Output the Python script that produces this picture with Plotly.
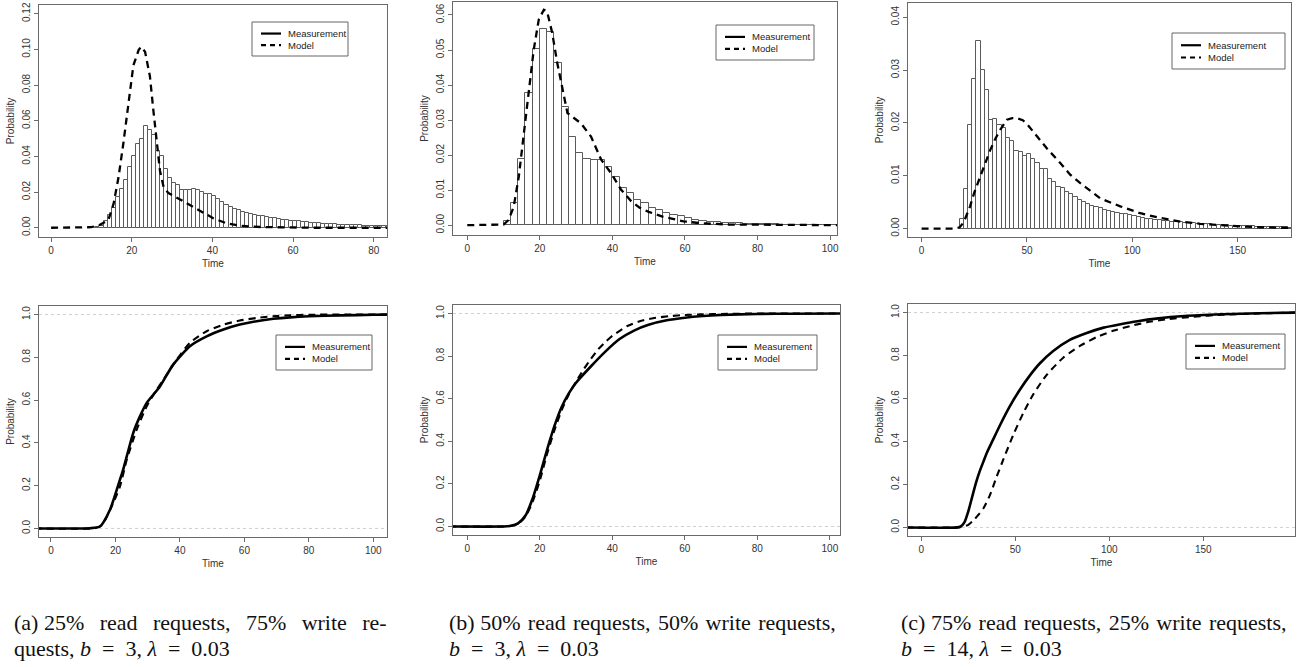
import plotly.graph_objects as go

W, H = 1299, 667

# ---------------- data ----------------
# (a) histogram, bin width 1, left edges
hist_a_width = 1
hist_a_left = list(range(11, 84))
hist_a_height = [0.0005, 0.001, 0.004, 0.007, 0.011, 0.017, 0.022, 0.027, 0.034, 0.040,
                 0.047, 0.050, 0.057, 0.055, 0.052, 0.043, 0.040, 0.033, 0.028, 0.025,
                 0.024, 0.021, 0.021, 0.021, 0.0215, 0.021, 0.020, 0.019, 0.019, 0.018,
                 0.016, 0.0144, 0.0128, 0.0117, 0.0107, 0.0098, 0.0089, 0.0083, 0.0076, 0.0070,
                 0.0067, 0.0063, 0.0060, 0.0057, 0.0053, 0.0050, 0.0046, 0.0043, 0.0040, 0.0037,
                 0.0035, 0.0033, 0.0030, 0.0028, 0.0026, 0.0024, 0.0022, 0.0021, 0.0020, 0.0019,
                 0.0018, 0.0017, 0.0016, 0.0015, 0.0014, 0.0013, 0.0012, 0.0011, 0.0010, 0.0010,
                 0.0009, 0.0009, 0.0008]
model_a_t = [0, 5, 9, 10, 12, 14.2, 15.5, 16.7, 17.9, 19.2, 20.4, 21.7, 22.3, 23.3, 24.5,
             25.4, 26.2, 27.0, 27.9, 29.1, 30.3, 32.4, 34.5, 37.0, 40.3, 43.6, 47.0, 51.9,
             57.7, 65, 75, 84]
model_a_p = [0, 0, 0, 0.0003, 0.0015, 0.0043, 0.0135, 0.028, 0.047, 0.071, 0.091, 0.0996,
             0.1015, 0.0987, 0.085, 0.065, 0.049, 0.032, 0.0228, 0.0194, 0.018, 0.0154,
             0.0126, 0.0093, 0.0052, 0.0024, 0.0011, 0.0004, 0.0001, 0, 0, 0]

# (b) histogram, bin width 2
hist_b_width = 2
hist_b_left = list(range(10, 104, 2))
hist_b_height = [0.0013, 0.0062, 0.0189, 0.0377, 0.0503, 0.0561, 0.0551, 0.0462, 0.0336, 0.0252,
                 0.0206, 0.0190, 0.0187, 0.0187, 0.0166, 0.0137, 0.0107, 0.0091, 0.0072, 0.0062,
                 0.0048, 0.0042, 0.0035, 0.0029, 0.0025, 0.0020, 0.0016, 0.0013, 0.0010, 0.0008,
                 0.0007, 0.0006, 0.0005, 0.0004, 0.0003, 0.00025, 0.0002, 0.0002, 0.00015, 0.00015,
                 0.0001, 0.0001, 0.0001, 0.0001, 0.0001, 0.00005, 0.00005]
model_b_t = [0, 8, 10, 11.4, 12.8, 14.2, 15.6, 16.9, 18.3, 19.7, 21.1, 22.0, 23.4, 24.8, 26.2,
             27.6, 29.4, 31.3, 34.1, 36.9, 39.6, 42.4, 45.2, 47.5, 50, 54, 59.6, 65, 72, 80, 90, 104]
model_b_p = [0, 0, 0.0002, 0.0015, 0.0053, 0.0139, 0.0263, 0.0377, 0.050, 0.0587, 0.0615, 0.061,
             0.0549, 0.0463, 0.0387, 0.032, 0.0306, 0.0291, 0.0253, 0.0187, 0.0149, 0.0101,
             0.0068, 0.0050, 0.0038, 0.0024, 0.0011, 0.0005, 0.0002, 0.0001, 0, 0]

# (c) histogram, bin width 2
hist_c_width = 2
hist_c_left = list(range(18, 176, 2))
hist_c_height = [0.0018, 0.0074, 0.0196, 0.0283, 0.0355, 0.0300, 0.0262, 0.0206, 0.0208, 0.0196,
                 0.0190, 0.0171, 0.0165, 0.0146, 0.0145, 0.0138, 0.0141, 0.0131, 0.0124, 0.0112,
                 0.0113, 0.0094, 0.0089, 0.0078, 0.0076, 0.0069, 0.0066, 0.0059, 0.0054, 0.0050,
                 0.0047, 0.0043, 0.0040, 0.0038, 0.0035, 0.0033, 0.0031, 0.0030, 0.0028, 0.0027,
                 0.0025, 0.0024, 0.0021, 0.0020, 0.0019, 0.0018, 0.0017, 0.0016, 0.0015, 0.0014,
                 0.0013, 0.0012, 0.0012, 0.0011, 0.0010, 0.0010, 0.0009, 0.0009, 0.0008, 0.0008,
                 0.0007, 0.0007, 0.0006, 0.0006, 0.0005, 0.0005, 0.0005, 0.0004, 0.0004, 0.0004,
                 0.0003, 0.0003, 0.0003, 0.0003, 0.0002, 0.0002, 0.0002, 0.0002, 0.0001]
model_c_t = [0, 15, 18, 20, 23, 25, 27.8, 30, 32.6, 35, 37.3, 40.5, 43, 45.2, 48, 50, 54.7,
             59.4, 65.8, 70.5, 75.3, 84.8, 94.3, 103.8, 113.3, 122.8, 132.2, 141.7, 151.2,
             160.7, 176]
model_c_p = [0, 0, 0.0002, 0.0012, 0.0042, 0.0068, 0.0098, 0.0122, 0.0149, 0.0170, 0.0187,
             0.0206, 0.0209, 0.0209, 0.0205, 0.0198, 0.0174, 0.0152, 0.0124, 0.0102, 0.0086,
             0.0057, 0.0042, 0.0029, 0.0020, 0.0013, 0.0009, 0.0006, 0.0004, 0.00025, 0.0001]

# CDFs
cdf_a_meas_t = [-5, 10, 12.1, 15.2, 18.3, 21.4, 22.4, 25.5, 27.6, 29.7, 33.8, 37.9, 43.1,
                48.3, 53.5, 58.6, 63.8, 69, 74.2, 80, 90, 100, 106]
cdf_a_meas_p = [0, 0, 0.001, 0.009, 0.0875, 0.228, 0.275, 0.446, 0.524, 0.587, 0.664, 0.766,
                0.852, 0.898, 0.93, 0.953, 0.969, 0.98, 0.987, 0.992, 0.996, 0.999, 1.0]
cdf_a_model_t = [-5, 13, 15, 17, 19.3, 21.4, 23.5, 26.6, 29.7, 32.8, 35.9, 39, 43.1, 48.3,
                 53.5, 58.6, 63.8, 69, 74.2, 80, 90, 106]
cdf_a_model_p = [0, 0, 0.008, 0.045, 0.119, 0.196, 0.321, 0.462, 0.571, 0.649, 0.719, 0.789,
                 0.868, 0.922, 0.953, 0.972, 0.984, 0.992, 0.997, 0.999, 1.0, 1.0]

cdf_b_meas_t = [-5, 10, 12, 14, 16, 18, 20, 22, 24, 26, 28, 30, 34, 38, 42, 46, 50, 55, 60,
                65, 70, 80, 90, 105]
cdf_b_meas_p = [0, 0, 0.003, 0.015, 0.05, 0.13, 0.24, 0.36, 0.47, 0.56, 0.625, 0.675, 0.75,
                0.82, 0.88, 0.92, 0.947, 0.968, 0.98, 0.988, 0.993, 0.998, 0.999, 1.0]
cdf_b_model_t = [-5, 12, 14, 16, 18, 20, 22, 24, 26, 28, 30, 32, 34, 36, 38, 40, 44, 48, 52,
                 56, 60, 65, 70, 80, 105]
cdf_b_model_p = [0, 0.002, 0.012, 0.045, 0.115, 0.215, 0.34, 0.45, 0.545, 0.62, 0.68, 0.735,
                 0.785, 0.83, 0.865, 0.895, 0.94, 0.966, 0.98, 0.988, 0.993, 0.996, 0.998, 1.0, 1.0]

cdf_c_meas_t = [-8, 19, 21, 23, 25, 27, 29, 31, 33, 35, 38, 42, 47, 52, 58, 63, 70, 79, 88,
                97, 106, 115, 125, 140, 160, 180, 200]
cdf_c_meas_p = [0, 0, 0.005, 0.025, 0.075, 0.14, 0.205, 0.26, 0.305, 0.35, 0.405, 0.478,
                0.562, 0.635, 0.71, 0.763, 0.82, 0.873, 0.905, 0.93, 0.946, 0.96, 0.972, 0.984,
                0.992, 0.997, 1.0]
cdf_c_model_t = [-8, 20, 23, 25, 28, 30, 33, 36.5, 40, 43.6, 48.9, 54.3, 59.6, 66.7, 75.5,
                 84.4, 93.3, 102, 111, 120, 130, 145, 160, 180, 200]
cdf_c_model_p = [0, 0, 0.005, 0.012, 0.035, 0.055, 0.088, 0.15, 0.234, 0.315, 0.43, 0.533,
                 0.62, 0.71, 0.79, 0.845, 0.886, 0.915, 0.937, 0.955, 0.968, 0.981, 0.99,
                 0.996, 1.0]

top_yticks = [
    [0, 0.02, 0.04, 0.06, 0.08, 0.10, 0.12],
    [0, 0.01, 0.02, 0.03, 0.04, 0.05, 0.06],
    [0, 0.01, 0.02, 0.03, 0.04],
]
bottom_yticks = [0, 0.2, 0.4, 0.6, 0.8, 1.0]
xticks = {
    1: [0, 20, 40, 60, 80],
    2: [0, 20, 40, 60, 80, 100],
    3: [0, 50, 100, 150],
    4: [0, 20, 40, 60, 80, 100],
    5: [0, 20, 40, 60, 80, 100],
    6: [0, 50, 100, 150],
}
legend_labels = ["Measurement", "Model"]

EN = "\u2002"
SP = "\u2002\u2009"   # justified (stretched) word gap
HS = "\u200a "        # slightly stretched word gap
captions = [
    (f"(a) 25%{SP}read{SP}requests,{SP}75%{SP}write{SP}re-",
     f"quests, <i>b</i>{EN}={EN}3, <i>λ</i>{EN}={EN}0.03"),
    (f"(b) 50%{HS}read{HS}requests,{HS}50%{HS}write{HS}requests,",
     f"<i>b</i>{EN}={EN}3, <i>λ</i>{EN}={EN}0.03"),
    (f"(c) 75%{HS}read{HS}requests,{HS}25%{HS}write{HS}requests,",
     f"<i>b</i>{EN}={EN}14, <i>λ</i>{EN}={EN}0.03"),
]

# ---------------- layout geometry (pixels) ----------------
panels = {
    # idx: (x0, x1, ytop, ybottom, xrange, yrange)
    1: (39, 387, 5, 237, [-3.0, 83.3], [-0.0052, 0.1249]),
    2: (453, 837, 2, 235, [-3.94, 101.9], [-0.0028, 0.0637]),
    3: (908, 1291, 3, 237, [-6.45, 175.3], [-0.0016, 0.0427]),
    4: (39, 387, 306, 537, [-3.72, 104.25], [-0.04, 1.04]),
    5: (453, 840, 305, 535, [-3.94, 102.8], [-0.04, 1.04]),
    6: (908, 1295, 304, 536, [-7.07, 198.8], [-0.04, 1.04]),
}
legend_box = {
    1: (252, 22, 348, 56), 2: (716, 25, 814, 60), 3: (1172, 33, 1285, 69),
    4: (276, 335, 372, 370), 5: (718, 335, 817, 370), 6: (1186, 334, 1285, 369),
}

FONT = "Liberation Sans, Arial, sans-serif"
AXC = "#6a6a6a"
TXT = "#333333"

fig = go.Figure()

def ax_names(i):
    return ("x" if i == 1 else f"x{i}"), ("y" if i == 1 else f"y{i}")

hists = [
    (hist_a_left, hist_a_height, hist_a_width, model_a_t, model_a_p),
    (hist_b_left, hist_b_height, hist_b_width, model_b_t, model_b_p),
    (hist_c_left, hist_c_height, hist_c_width, model_c_t, model_c_p),
]
for k, (left, h, w, mt, mp) in enumerate(hists):
    i = k + 1
    xa, ya = ax_names(i)
    fig.add_trace(go.Bar(x=left, y=h, width=w, offset=0, xaxis=xa, yaxis=ya,
                         marker=dict(color="white", line=dict(color="#5a5a5a", width=1)),
                         showlegend=False, hoverinfo="skip"))
    fig.add_trace(go.Scatter(x=mt, y=mp, mode="lines", xaxis=xa, yaxis=ya, name="Model",
                             line=dict(color="black", width=2.3, dash="7px,5px"),
                             showlegend=False))

cdfs = [
    (cdf_a_meas_t, cdf_a_meas_p, cdf_a_model_t, cdf_a_model_p),
    (cdf_b_meas_t, cdf_b_meas_p, cdf_b_model_t, cdf_b_model_p),
    (cdf_c_meas_t, cdf_c_meas_p, cdf_c_model_t, cdf_c_model_p),
]
for k, (mt, mp, dt, dp) in enumerate(cdfs):
    i = k + 4
    xa, ya = ax_names(i)
    for yv in (0, 1):
        fig.add_shape(type="line", xref=f"{xa} domain", yref=ya, x0=0, x1=1, y0=yv, y1=yv,
                      line=dict(color="#cfcfcf", width=1, dash="dot"), layer="below")
    fig.add_trace(go.Scatter(x=mt, y=mp, mode="lines", xaxis=xa, yaxis=ya, name="Measurement",
                             line=dict(color="black", width=2.6, shape="spline", smoothing=0.6),
                             showlegend=False))
    fig.add_trace(go.Scatter(x=dt, y=dp, mode="lines", xaxis=xa, yaxis=ya, name="Model",
                             line=dict(color="black", width=2.1, dash="7px,5px",
                                       shape="spline", smoothing=0.6),
                             showlegend=False))

# legends (R style boxed legend)
for i, (bx0, by0, bx1, by1) in legend_box.items():
    fig.add_shape(type="rect", xref="paper", yref="paper",
                  x0=bx0 / W, x1=bx1 / W, y0=1 - by1 / H, y1=1 - by0 / H,
                  line=dict(color="#666666", width=1), fillcolor="white", layer="above")
    bh = by1 - by0
    rows = [by0 + bh * 0.34, by0 + bh * 0.68]
    for lab, ry, dash, lw in zip(legend_labels, rows, ["solid", "5px,4px"], [2.2, 2.2]):
        fig.add_shape(type="line", xref="paper", yref="paper",
                      x0=(bx0 + 9) / W, x1=(bx0 + 29) / W, y0=1 - ry / H, y1=1 - ry / H,
                      line=dict(color="black", width=lw, dash=dash), layer="above")
        fig.add_annotation(text=lab, x=(bx0 + 34) / W, y=1 - ry / H, xref="paper", yref="paper",
                           xanchor="left", yanchor="middle", showarrow=False,
                           font=dict(family=FONT, size=9.5, color="#222222"))

layout = dict(width=W, height=H, margin=dict(l=0, r=0, t=0, b=0),
              paper_bgcolor="white", plot_bgcolor="white", bargap=0, showlegend=False,
              font=dict(family=FONT, size=10, color=TXT))

for i, (x0, x1, yt, yb, xr, yr) in panels.items():
    xa, ya = ax_names(i)
    xkey = "xaxis" if i == 1 else f"xaxis{i}"
    ykey = "yaxis" if i == 1 else f"yaxis{i}"
    if i <= 3:
        yt_vals = top_yticks[i - 1]
        yfmt = ".2f"
    else:
        yt_vals = bottom_yticks
        yfmt = ".1f"
    layout[xkey] = dict(domain=[x0 / W, x1 / W], range=xr, anchor=ya,
                        showgrid=False, zeroline=False, showline=True, mirror=True,
                        linecolor=AXC, linewidth=1, ticks="outside", ticklen=4,
                        tickcolor=AXC, tickvals=xticks[i],
                        tickfont=dict(size=10, color=TXT, family=FONT),
                        title=dict(text="Time", standoff=4,
                                   font=dict(size=10, color=TXT, family=FONT)),
                        automargin=False, fixedrange=True)
    layout[ykey] = dict(domain=[1 - yb / H, 1 - yt / H], range=yr, anchor=xa,
                        showgrid=False, zeroline=False, showline=True, mirror=True,
                        linecolor=AXC, linewidth=1, ticks="outside", ticklen=4,
                        tickcolor=AXC, tickvals=yt_vals, tickformat=yfmt, tickangle=-90,
                        tickfont=dict(size=10, color=TXT, family=FONT),
                        title=dict(text="Probability", standoff=4,
                                   font=dict(size=10, color=TXT, family=FONT)),
                        automargin=False, fixedrange=True)

fig.update_layout(**layout)

cap_x = [12, 447, 899]
for (l1, l2), cx in zip(captions, cap_x):
    for txt, cy in ((l1, 622), (l2, 648)):
        fig.add_annotation(text=txt, x=cx / W, y=1 - cy / H, xref="paper", yref="paper",
                           xanchor="left", yanchor="middle", showarrow=False,
                           font=dict(family="Liberation Serif, Times New Roman, serif",
                                     size=22, color="#111111"))

fig.write_html("out.html")
